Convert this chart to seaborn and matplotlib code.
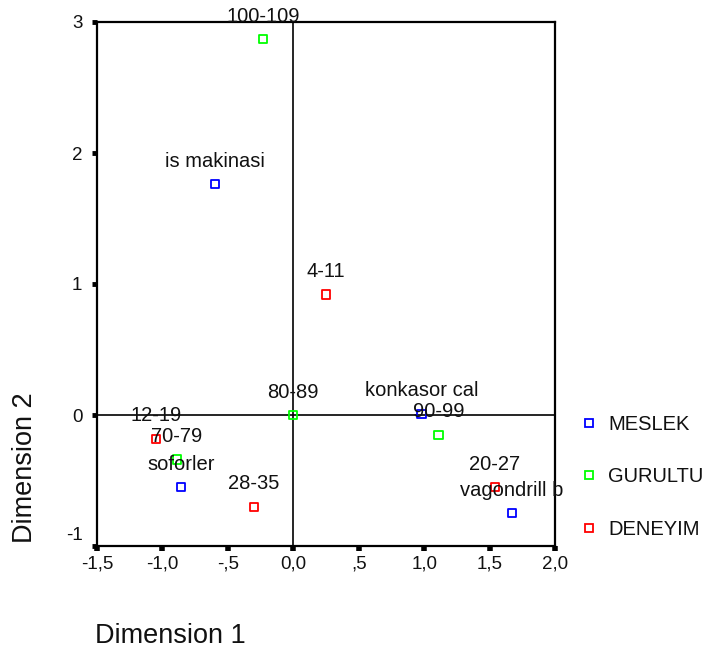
import matplotlib
matplotlib.use("Agg")
import matplotlib.pyplot as plt
import matplotlib.transforms as mtransforms
from matplotlib.lines import Line2D
import seaborn as sns
import pandas as pd

# ---- data ----
labels = ["100-109", "is makinasi", "4-11", "80-89", "konkasor cal", "90-99",
          "12-19", "70-79", "soforler", "28-35", "20-27", "vagondrill b"]
groups = ["GURULTU", "MESLEK", "DENEYIM", "GURULTU", "MESLEK", "GURULTU",
          "DENEYIM", "GURULTU", "MESLEK", "DENEYIM", "DENEYIM", "MESLEK"]
dim1 = [-0.23, -0.60, 0.25, 0.00, 0.98, 1.11, -1.05, -0.89, -0.86, -0.30, 1.54, 1.67]
dim2 = [2.87, 1.76, 0.92, 0.00, 0.01, -0.15, -0.18, -0.34, -0.55, -0.70, -0.55, -0.75]
legend_order = ["MESLEK", "GURULTU", "DENEYIM"]
palette = {"MESLEK": "#0000ff", "GURULTU": "#00ff00", "DENEYIM": "#ff0000"}
xticks = [-1.5, -1.0, -0.5, 0.0, 0.5, 1.0, 1.5, 2.0]
xticklabels = ["-1,5", "-1,0", "-,5", "0,0", ",5", "1,0", "1,5", "2,0"]
yticks = [-1, 0, 1, 2, 3]
yticklabels = ["-1", "0", "1", "2", "3"]

df = pd.DataFrame({"label": labels, "group": groups, "Dimension 1": dim1, "Dimension 2": dim2})

sns.set_style("white")
plt.rcParams["font.family"] = ["Liberation Sans", "DejaVu Sans"]

fig = plt.figure(figsize=(7.07, 6.55), dpi=100)
ax = fig.add_axes([97 / 707, 1 - 546 / 655, 458 / 707, 524 / 655])

ax.axhline(0, color="black", lw=1.2, zorder=1)
ax.axvline(0, color="black", lw=1.2, zorder=1)

for g in legend_order:
    sub = df[df["group"] == g]
    sns.scatterplot(data=sub, x="Dimension 1", y="Dimension 2", ax=ax,
                    marker="s", s=34, facecolor="none", edgecolor=palette[g],
                    linewidth=1.3, zorder=3, legend=False)

for lab, xv, yv in zip(labels, dim1, dim2):
    ax.annotate(lab, (xv, yv), xytext=(0, 12.5), textcoords="offset points",
                ha="center", va="baseline", fontsize=14.5, color="#111111", zorder=4,
                annotation_clip=False)

ax.set_xlim(-1.5, 2.0)
ax.set_ylim(-1, 3)
ax.set_xticks(xticks)
ax.set_xticklabels(xticklabels)
ax.set_yticks(yticks)
ax.set_yticklabels(yticklabels)
ax.tick_params(axis="x", direction="out", length=3.5, width=4,
               color="black", labelsize=13.5, labelcolor="#111111", pad=3.5,
               bottom=True)
ax.tick_params(axis="y", direction="out", length=3.5, width=3.5,
               color="black", labelsize=13.5, labelcolor="#111111", pad=7,
               left=True)
# lowest y label sits slightly raised, as in the reference
low = ax.get_yticklabels()[0]
low.set_transform(low.get_transform() +
                  mtransforms.ScaledTranslation(0, 12 / 100, fig.dpi_scale_trans))

for sp in ax.spines.values():
    sp.set_visible(True)
    sp.set_color("black")
    sp.set_linewidth(1.6)

ax.set_xlabel("")
ax.set_ylabel("")
fig.text(95 / 707, 1 - 636 / 655, "Dimension 1", fontsize=19.5, ha="left", va="center",
         color="#111111")
fig.text(25 / 707, 1 - 468 / 655, "Dimension 2", fontsize=19.5, ha="center", va="center",
         rotation=90, color="#111111")

handles = [Line2D([], [], marker="s", linestyle="none", markersize=6,
                  markerfacecolor="none", markeredgecolor=palette[g],
                  markeredgewidth=1.3, label=g) for g in legend_order]
leg = fig.legend(handles=handles, loc="center left",
                 bbox_to_anchor=(579 / 707, 1 - 477 / 655), frameon=False,
                 fontsize=14.5, labelspacing=1.68, handletextpad=0.45, handlelength=1.0,
                 borderpad=0, borderaxespad=0)
for t in leg.get_texts():
    t.set_color("#111111")

fig.savefig("out.png", dpi=100)
